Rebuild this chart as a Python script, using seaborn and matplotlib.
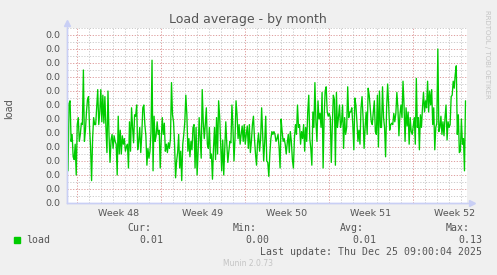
import numpy as np
import pandas as pd
import matplotlib
matplotlib.use("Agg")
import matplotlib.pyplot as plt
import matplotlib.dates as mdates
from matplotlib.patches import Rectangle
import seaborn as sns

# ---------------- data ----------------
title = "Load average - by month"
y_label = "load"
series_name = "load"

load = [
    0.058, 0.023, 0.071, 0.073, 0.044, 0.049, 0.033, 0.031, 0.042, 0.020,
    0.056, 0.061, 0.044, 0.049, 0.057, 0.056, 0.095, 0.044, 0.052, 0.065,
    0.074, 0.076, 0.054, 0.040, 0.016, 0.046, 0.061, 0.056, 0.056, 0.068,
    0.081, 0.056, 0.065, 0.081, 0.058, 0.077, 0.057, 0.076, 0.054, 0.036,
    0.080, 0.049, 0.029, 0.045, 0.049, 0.039, 0.048, 0.044, 0.042, 0.020,
    0.062, 0.035, 0.052, 0.035, 0.048, 0.042, 0.046, 0.037, 0.040, 0.042,
    0.025, 0.058, 0.037, 0.068, 0.054, 0.043, 0.063, 0.062, 0.070,
    # week 48 / 49
    0.038, 0.044, 0.054, 0.036, 0.049, 0.068, 0.070, 0.056, 0.048, 0.027,
    0.039, 0.032, 0.037, 0.051, 0.102, 0.023, 0.062, 0.044, 0.048, 0.058,
    0.049, 0.052, 0.025, 0.046, 0.061, 0.049, 0.057, 0.037, 0.042, 0.036,
    0.043, 0.039, 0.046, 0.086, 0.063, 0.058, 0.042, 0.018, 0.030, 0.036,
    0.049, 0.025, 0.037, 0.016, 0.042, 0.049, 0.058, 0.077, 0.063, 0.037,
    0.046, 0.033, 0.044, 0.038, 0.054, 0.056, 0.025, 0.054, 0.020, 0.037,
    0.061, 0.046, 0.032, 0.081, 0.058, 0.046, 0.056, 0.068, 0.042, 0.039,
    0.054, 0.032, 0.035, 0.017, 0.039, 0.054, 0.031, 0.061, 0.035,
    # week 49 / 50
    0.073, 0.062, 0.042, 0.023, 0.045, 0.020, 0.039, 0.058, 0.042, 0.029,
    0.037, 0.044, 0.043, 0.070, 0.054, 0.030, 0.046, 0.073, 0.063, 0.046,
    0.056, 0.042, 0.049, 0.055, 0.044, 0.056, 0.042, 0.049, 0.055, 0.039,
    0.056, 0.036, 0.044, 0.056, 0.062, 0.046, 0.035, 0.027, 0.043, 0.050,
    0.037, 0.046, 0.068, 0.049, 0.030, 0.044, 0.062, 0.030, 0.029, 0.019,
    0.035, 0.046, 0.051, 0.049, 0.051, 0.049, 0.044, 0.046, 0.049, 0.040,
    0.025, 0.060, 0.051, 0.044, 0.046, 0.042, 0.035, 0.043, 0.049, 0.036,
    0.051, 0.044, 0.031, 0.025, 0.046, 0.056, 0.049, 0.070, 0.054,
    # week 50 / 51
    0.056, 0.042, 0.051, 0.046, 0.056, 0.037, 0.054, 0.044, 0.065, 0.077,
    0.046, 0.039, 0.027, 0.065, 0.054, 0.086, 0.058, 0.044, 0.073, 0.060,
    0.064, 0.054, 0.079, 0.025, 0.061, 0.080, 0.083, 0.065, 0.062, 0.064,
    0.061, 0.029, 0.056, 0.077, 0.074, 0.027, 0.079, 0.054, 0.061, 0.070,
    0.054, 0.058, 0.070, 0.039, 0.061, 0.049, 0.054, 0.083, 0.061, 0.065,
    0.065, 0.068, 0.056, 0.038, 0.075, 0.070, 0.058, 0.044, 0.052, 0.042,
    0.068, 0.076, 0.061, 0.039, 0.054, 0.065, 0.049, 0.082, 0.077, 0.068,
    0.058, 0.056, 0.065, 0.073, 0.051, 0.049, 0.077, 0.040, 0.080, 0.054,
    # week 51 / 52
    0.054, 0.083, 0.061, 0.054, 0.033, 0.068, 0.085, 0.070, 0.052, 0.056,
    0.057, 0.056, 0.064, 0.058, 0.064, 0.079, 0.068, 0.048, 0.063, 0.070,
    0.061, 0.087, 0.070, 0.044, 0.068, 0.055, 0.065, 0.042, 0.061, 0.051,
    0.049, 0.055, 0.061, 0.042, 0.089, 0.054, 0.061, 0.038, 0.063, 0.054,
    0.068, 0.079, 0.065, 0.073, 0.068, 0.087, 0.065, 0.080, 0.070, 0.081,
    0.056, 0.068, 0.038, 0.054, 0.057, 0.110, 0.051, 0.054, 0.062, 0.049,
    0.058, 0.048, 0.061, 0.070, 0.045, 0.058, 0.054, 0.056, 0.076, 0.077,
    0.087, 0.082, 0.092, 0.098, 0.049, 0.063, 0.036, 0.037, 0.060, 0.042,
    0.046, 0.023, 0.073,
]

range_start = pd.Timestamp("2025-11-22 04:00")
range_end = pd.Timestamp("2025-12-25 12:00")
last_sample = pd.Timestamp("2025-12-25 09:00")

week_starts = pd.to_datetime(["2025-11-23", "2025-11-30", "2025-12-07",
                              "2025-12-14", "2025-12-21"])
week_labels = ["Week 48", "Week 49", "Week 50", "Week 51", "Week 52"]

yticks = [0.00, 0.01, 0.02, 0.03, 0.04, 0.05, 0.06, 0.07, 0.08, 0.09, 0.10, 0.11, 0.12]
ytick_labels = ["0.0"] * len(yticks)
y_top = 0.125

stat_names = ["Cur:", "Min:", "Avg:", "Max:"]
stat_values = ["0.01", "0.00", "0.01", "0.13"]
last_update = "Last update: Thu Dec 25 09:00:04 2025"
footer = "Munin 2.0.73"
watermark = "RRDTOOL / TOBI OETIKER"

# ---------------- style ----------------
BACK = "#f0f0f0"
FONT = "#555555"
AXIS = "#c9cff5"
MGRID = "#df9f9f"
GRID = "#cccccc"
LINE = "#00cc00"

sns.set_theme(style="white")
plt.rcParams["font.family"] = ["DejaVu Sans"]

W, H = 497, 275
fig = plt.figure(figsize=(W / 100, H / 100), dpi=100, facecolor=BACK)
ax = fig.add_axes([67 / W, 1 - 203 / H, 400 / W, 175 / H])
ax.set_facecolor("white")


def fx(px):
    return px / W


def fy(py):
    return 1 - py / H


df = pd.DataFrame({
    "time": pd.date_range(range_start, last_sample, periods=len(load)),
    "load": load,
})
sns.lineplot(data=df, x="time", y="load", ax=ax, color=LINE, linewidth=0.95,
             zorder=5)

ax.set_xlim(range_start, range_end)
ax.set_ylim(0, y_top)
ax.set_xlabel("")
ax.set_ylabel("")

# y axis
ax.set_yticks(yticks, labels=ytick_labels)
ax.set_yticks(np.arange(0.005, y_top + 0.0001, 0.01), minor=True)
ax.tick_params(axis="y", which="major", length=3, direction="inout",
               color=MGRID, width=0.7, labelsize=6.8, labelcolor=FONT, pad=3)
ax.tick_params(axis="y", which="minor", length=2, direction="inout",
               color=GRID, width=0.7)

# x axis: week starts (major), days (minor), week labels mid-week
ax.xaxis.set_major_locator(mdates.WeekdayLocator(byweekday=mdates.SU))
ax.xaxis.set_minor_locator(mdates.DayLocator())
ax.xaxis.set_major_formatter(matplotlib.ticker.NullFormatter())
ax.tick_params(axis="x", which="major", length=4, direction="inout",
               color=MGRID, width=0.7)
ax.tick_params(axis="x", which="minor", length=2, direction="inout",
               color=GRID, width=0.7)
for ws, lab in zip(week_starts, week_labels):
    mid = ws + pd.Timedelta(days=3.5)
    ax.text(mid, -10 / 175, lab, transform=ax.get_xaxis_transform(),
            ha="center", va="center", fontsize=6.8, color=FONT)

# grid (dotted)
dots = (0, (1.2, 1.6))
ax.grid(True, which="major", axis="both", color=MGRID, linestyle=dots,
        linewidth=0.72)
ax.grid(True, which="minor", axis="both", color=GRID, linestyle=dots,
        linewidth=0.72)
ax.set_axisbelow(True)

# axes lines with arrows
for s in ["top", "right"]:
    ax.spines[s].set_visible(False)
for s in ["left", "bottom"]:
    ax.spines[s].set_color(AXIS)
    ax.spines[s].set_linewidth(1.0)
ax.plot([0, 0], [0, 1.02], transform=ax.transAxes, color=AXIS, lw=1.0,
        clip_on=False, zorder=6)
ax.plot([0, 1.01], [0, 0], transform=ax.transAxes, color=AXIS, lw=1.0,
        clip_on=False, zorder=6)
ax.plot([0], [1.03], marker="^", markersize=5, color=AXIS,
        transform=ax.transAxes, clip_on=False, zorder=6)
ax.plot([1.012], [0], marker=">", markersize=5, color=AXIS,
        transform=ax.transAxes, clip_on=False, zorder=6)

# titles
fig.text(fx(248), fy(19), title, ha="center", va="center", fontsize=9,
         color=FONT)
fig.text(fx(9), fy(109), y_label, ha="center", va="center", rotation=90,
         fontsize=7, color=FONT)
fig.text(fx(487), fy(54), watermark, ha="center", va="center", rotation=270,
         fontsize=5, color="#c4c4c4")

# legend block (rrdtool style)
mono = dict(family="DejaVu Sans Mono", fontsize=7.1, color=FONT)
fig.patches.append(Rectangle((fx(14), fy(242.7)), 6 / W, 6 / H,
                             transform=fig.transFigure, color=LINE))
fig.text(fx(26.5), fy(239.7), series_name, ha="left", va="center", **mono)
head_right = [151, 257, 363.5, 470]
val_right = [163, 269.5, 376, 482.5]
for name, val, hx, vx in zip(stat_names, stat_values, head_right, val_right):
    fig.text(fx(hx), fy(228), name, ha="right", va="center", **mono)
    fig.text(fx(vx), fy(239.7), val, ha="right", va="center", **mono)
fig.text(fx(482.5), fy(251.7), last_update, ha="right", va="center", **mono)
fig.text(fx(248), fy(264), footer, ha="center", va="center", fontsize=5.5,
         color="#c4c4c4")

fig.savefig("out.png", dpi=100, facecolor=BACK)
